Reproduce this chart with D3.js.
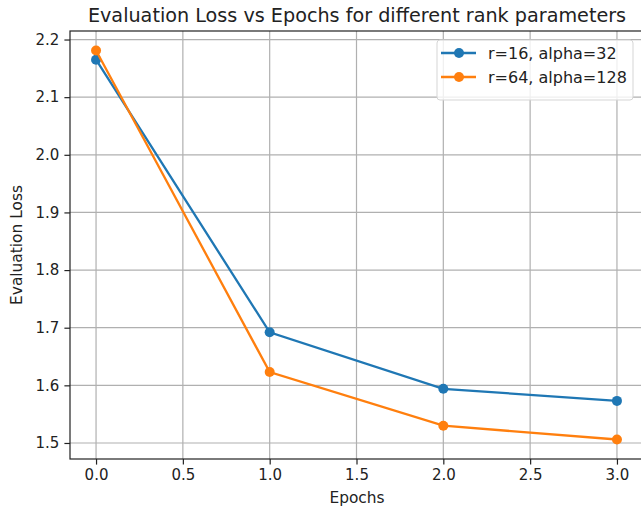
<!DOCTYPE html>
<html>
<head>
<meta charset="utf-8">
<script src="https://cdn.jsdelivr.net/npm/d3@7"></script>
<style>
  body { margin: 0; background: #fff; }
  text { font-family: "DejaVu Sans", sans-serif; fill: #222; }
</style>
</head>
<body>
<svg id="chart" width="641" height="508"></svg>
<script>
// values
const epochs = [0, 1, 2, 3];
const lossR16 = [2.165, 1.692, 1.594, 1.573];
const lossR64 = [2.181, 1.623, 1.530, 1.506];
const seriesNames = ["r=16, alpha=32", "r=64, alpha=128"];
const seriesColors = ["#1f77b4", "#ff7f0e"];
const xTicks = [0, 0.5, 1, 1.5, 2, 2.5, 3];
const yTicks = [1.5, 1.6, 1.7, 1.8, 1.9, 2.0, 2.1, 2.2];

const margin = { left: 70, right: 643, top: 31, bottom: 459 };
const svg = d3.select("#chart");

const x = d3.scaleLinear().domain([-0.15, 3.15]).range([margin.left, margin.right]);
const y = d3.scaleLinear().domain([1.4722, 2.2148]).range([margin.bottom, margin.top]);

// grid lines
svg.append("g").selectAll("line").data(xTicks).join("line")
    .attr("x1", d => x(d)).attr("x2", d => x(d))
    .attr("y1", margin.top).attr("y2", margin.bottom)
    .attr("stroke", "#b0b0b0").attr("stroke-width", 1.2);
svg.append("g").selectAll("line").data(yTicks).join("line")
    .attr("x1", margin.left).attr("x2", margin.right)
    .attr("y1", d => y(d)).attr("y2", d => y(d))
    .attr("stroke", "#b0b0b0").attr("stroke-width", 1.2);

// axes
const xAxis = svg.append("g")
    .attr("transform", `translate(0,${margin.bottom})`)
    .call(d3.axisBottom(x).tickValues(xTicks).tickFormat(d3.format(".1f")).tickSizeOuter(0).tickSize(5.6).tickPadding(5));
const yAxis = svg.append("g")
    .attr("transform", `translate(${margin.left},0)`)
    .call(d3.axisLeft(y).tickValues(yTicks).tickFormat(d3.format(".1f")).tickSizeOuter(0).tickSize(5.6).tickPadding(5));
[xAxis, yAxis].forEach(a => {
    a.select(".domain").remove();
    a.selectAll("line").attr("stroke", "#222").attr("stroke-width", 1.2);
    a.selectAll("text").style("font-size", "15px").attr("fill", "#222");
});

// spines
svg.append("rect")
    .attr("x", margin.left).attr("y", margin.top)
    .attr("width", margin.right - margin.left).attr("height", margin.bottom - margin.top)
    .attr("fill", "none").attr("stroke", "#222").attr("stroke-width", 1.2);

// series
const allSeries = [lossR16, lossR64];
const line = d3.line().x((d, i) => x(epochs[i])).y(d => y(d));
allSeries.forEach((vals, k) => {
    svg.append("path").datum(vals)
        .attr("d", line)
        .attr("fill", "none")
        .attr("stroke", seriesColors[k])
        .attr("stroke-width", 2.3);
    svg.append("g").selectAll("circle").data(vals).join("circle")
        .attr("cx", (d, i) => x(epochs[i]))
        .attr("cy", d => y(d))
        .attr("r", 5)
        .attr("fill", seriesColors[k]);
});

// title and labels
svg.append("text")
    .attr("x", 357).attr("y", 22)
    .attr("text-anchor", "middle")
    .style("font-size", "19.2px")
    .text("Evaluation Loss vs Epochs for different rank parameters");
svg.append("text")
    .attr("x", 357).attr("y", 503)
    .attr("text-anchor", "middle")
    .style("font-size", "15.4px")
    .text("Epochs");
svg.append("text")
    .attr("transform", `translate(22,${(margin.top + margin.bottom) / 2}) rotate(-90)`)
    .attr("text-anchor", "middle")
    .style("font-size", "15.4px")
    .text("Evaluation Loss");

// legend
const legend = svg.append("g").attr("transform", "translate(437,40)");
legend.append("rect")
    .attr("width", 196).attr("height", 60).attr("rx", 3)
    .attr("fill", "#fff").attr("fill-opacity", 0.8)
    .attr("stroke", "#d5d5d5").attr("stroke-width", 1);
seriesNames.forEach((name, k) => {
    const cy = 13 + k * 24;
    legend.append("line")
        .attr("x1", 4).attr("x2", 39).attr("y1", cy).attr("y2", cy)
        .attr("stroke", seriesColors[k]).attr("stroke-width", 2.3);
    legend.append("circle").attr("cx", 22).attr("cy", cy).attr("r", 5).attr("fill", seriesColors[k]);
    legend.append("text")
        .attr("x", 51).attr("y", cy + 6)
        .style("font-size", "16px")
        .text(name);
});
</script>
</body>
</html>
